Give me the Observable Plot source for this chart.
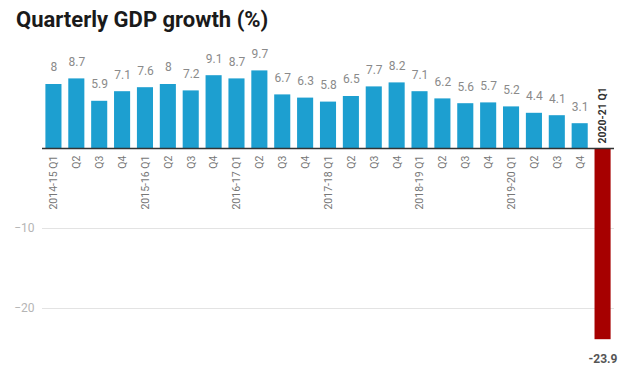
<!DOCTYPE html>
<html>
<head>
<meta charset="utf-8">
<script src="https://cdn.jsdelivr.net/npm/d3@7"></script>
<script src="https://cdn.jsdelivr.net/npm/@observablehq/plot@0.6"></script>
<style>
  html, body { margin: 0; padding: 0; background: #fff; overflow: hidden; }
  #title { font-family: Roboto, sans-serif; font-weight: 700; font-size: 22px; color: #1a1a1a; line-height: 40px; height: 40px; padding-left: 16px; }
  svg { display: block; }
</style>
</head>
<body>
<div id="title">Quarterly GDP growth (%)</div>
<div id="chart"></div>
<script>
const quarterLabels = [
  "2014-15 Q1","Q2","Q3","Q4",
  "2015-16 Q1","Q2","Q3","Q4",
  "2016-17 Q1","Q2","Q3","Q4",
  "2017-18 Q1","Q2","Q3","Q4",
  "2018-19 Q1","Q2","Q3","Q4",
  "2019-20 Q1","Q2","Q3","Q4",
  "2020-21 Q1"
];
const growth = [8, 8.7, 5.9, 7.1, 7.6, 8, 7.2, 9.1, 8.7, 9.7, 6.7, 6.3, 5.8, 6.5, 7.7, 8.2, 7.1, 6.2, 5.6, 5.7, 5.2, 4.4, 4.1, 3.1, -23.9];
const yTicks = [-10, -20];

const data = growth.map((v, i) => ({i, label: quarterLabels[i], value: v}));
const pos = data.filter(d => d.value >= 0);
const neg = data.filter(d => d.value < 0);

const chart = Plot.plot({
  width: 635,
  height: 335,
  marginTop: 28,
  marginBottom: 27,
  marginLeft: 42,
  marginRight: 21,
  style: {fontFamily: "Roboto, sans-serif", background: "#fff"},
  x: {type: "band", domain: d3.range(growth.length), padding: 0, round: false, axis: null},
  y: {domain: [-25, 10], axis: null},
  marks: [
    Plot.ruleY(yTicks, {stroke: "#e3e3e3", strokeWidth: 1}),
    Plot.axisY(yTicks, {tickSize: 0, tickPadding: 8, fill: "#b5b5b5", fontSize: 12, label: null}),
    Plot.barY(pos, {x: "i", y: "value", fill: "#1d9fd0", insetLeft: 3.4, insetRight: 3.4}),
    Plot.barY(neg, {x: "i", y: "value", fill: "#a60000", insetLeft: 3.4, insetRight: 3.4}),
    Plot.ruleY([0], {stroke: "#333", strokeWidth: 1.5}),
    Plot.text(pos, {x: "i", y: "value", text: d => String(d.value), dy: -17, fill: "#8a8a8a", fontSize: 12}),
    Plot.text(neg, {x: "i", y: "value", text: d => "-" + Math.abs(d.value), dy: 19, fill: "#555", fontSize: 12, fontWeight: "bold"}),
    Plot.text(pos, {x: "i", y: () => 0, text: "label", rotate: -90, textAnchor: "end", dy: 7, fill: "#777", fontSize: 10.5}),
    Plot.text(neg, {x: "i", y: () => 0, text: "label", rotate: -90, textAnchor: "start", dy: -5, fill: "#333", fontSize: 10.5, fontWeight: "bold"})
  ]
});
document.getElementById("chart").appendChild(chart);
</script>
</body>
</html>
